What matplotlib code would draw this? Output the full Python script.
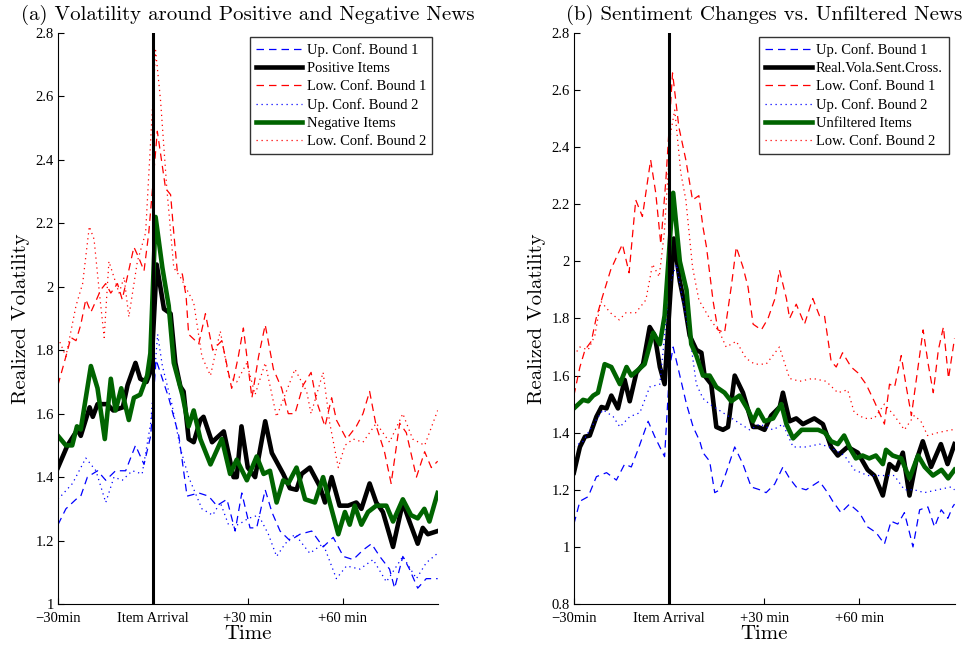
import matplotlib
matplotlib.use("Agg")
import matplotlib.pyplot as plt

# ---- panel (a): positive vs negative news ----
a_pos_t = [-30, -27, -23.8, -22.8, -20, -19, -17.5, -14.5, -12.5, -9.5, -8, -5.5, -4, -2, -0.5,
           1.2, 3.5, 5.6, 7.1, 8.7, 9.7, 11.3, 12.9, 15, 16, 18.7, 22.4, 25.5, 26.5, 28, 30, 32.3,
           35.5, 37.6, 41.2, 43.3, 45.4, 47, 49.6, 52.8, 54.4, 56.5, 59, 61.7, 64.3, 65.9, 68.5,
           70.6, 72.7, 75.9, 79, 81.1, 83.7, 85.3, 86.9, 90]
a_pos_v = [1.43, 1.50, 1.55, 1.53, 1.62, 1.59, 1.63, 1.63, 1.61, 1.62, 1.69, 1.76, 1.71, 1.70, 1.74,
           2.07, 1.93, 1.915, 1.76, 1.685, 1.67, 1.52, 1.51, 1.58, 1.59, 1.51, 1.544, 1.40, 1.40,
           1.56, 1.43, 1.40, 1.576, 1.476, 1.41, 1.365, 1.36, 1.41, 1.43, 1.37, 1.32, 1.40, 1.31,
           1.31, 1.32, 1.30, 1.38, 1.32, 1.29, 1.18, 1.32, 1.26, 1.19, 1.24, 1.22, 1.23]

a_neg_t = [-30, -27.5, -25.5, -24, -22.8, -19.6, -17.5, -15.2, -13.3, -11.8, -10, -7.6, -6, -4, -1.8,
           -0.8, 0.85, 3, 5, 6.6, 9.3, 11.3, 12.9, 15, 18.2, 21.8, 24.4, 26.5, 29.7, 32.8, 35, 37,
           39.1, 41.2, 42.8, 45.4, 48.1, 51.2, 53.8, 55.9, 58.6, 60.7, 62.2, 63.8, 65.9, 68, 70.6,
           73.8, 75.9, 79, 81.6, 83.7, 85.8, 87.4, 90]
a_neg_v = [1.53, 1.50, 1.50, 1.56, 1.55, 1.75, 1.68, 1.52, 1.71, 1.61, 1.68, 1.58, 1.65, 1.66, 1.72,
           1.79, 2.22, 2.06, 1.94, 1.76, 1.66, 1.56, 1.61, 1.52, 1.44, 1.52, 1.41, 1.455, 1.39,
           1.465, 1.41, 1.42, 1.32, 1.39, 1.38, 1.43, 1.33, 1.32, 1.40, 1.32, 1.22, 1.29, 1.25,
           1.31, 1.25, 1.29, 1.31, 1.31, 1.26, 1.33, 1.28, 1.27, 1.30, 1.26, 1.35]

a_low1_t = [-30, -27.5, -25.9, -24.3, -22.8, -21.2, -19.6, -17.8, -16.5, -14.9, -13.3, -11.2, -9.7,
            -8.1, -6, -4.4, -2.8, -1.3, 1.4, 4, 5.6, 6.6, 7.7, 9.3, 10.5, 11.3, 14.5, 16.6, 18.9,
            21.8, 24.9, 27, 28.6, 31.3, 33.4, 35.5, 38.1, 40.7, 42.8, 44.9, 47.5, 50, 51.7, 54.4,
            56.5, 58, 61.2, 64.3, 66.4, 68.5, 70.6, 73.2, 75.3, 78, 80.1, 83.3, 85.9, 88, 90]
a_low1_v = [1.69, 1.78, 1.84, 1.83, 1.88, 1.96, 1.92, 1.96, 1.99, 2.01, 1.98, 2.01, 1.96, 2.03,
            2.125, 2.09, 2.05, 2.17, 2.49, 2.31, 2.29, 2.17, 2.05, 2.04, 1.97, 1.85, 1.82, 1.915,
            1.80, 1.83, 1.68, 1.78, 1.87, 1.65, 1.78, 1.88, 1.74, 1.68, 1.60, 1.60, 1.69, 1.73,
            1.64, 1.56, 1.65, 1.58, 1.52, 1.56, 1.60, 1.67, 1.56, 1.48, 1.38, 1.57, 1.54, 1.40,
            1.48, 1.43, 1.45]

a_low2_t = [-30, -27.5, -24.3, -22.2, -20.1, -18.6, -17, -15.4, -13.9, -12.3, -10.7, -9.1, -7.6,
            -4.9, -2.3, 0.85, 2.4, 4.4, 6.6, 8.7, 12.9, 15.5, 18.2, 21.3, 23.9, 26.5, 29.7, 32.3,
            35.5, 39.1, 41.8, 44.9, 48.6, 50, 53.8, 55.9, 58.6, 60.7, 63.3, 66.4, 70.6, 74.8, 79,
            82.1, 85.9, 90]
a_low2_v = [1.84, 1.78, 1.94, 2.01, 2.19, 2.15, 1.99, 1.84, 2.08, 2.03, 1.98, 2.03, 1.905, 2.08,
            2.17, 2.745, 2.59, 2.31, 2.06, 2.03, 1.95, 1.78, 1.72, 1.86, 1.72, 1.70, 1.76, 1.66,
            1.76, 1.59, 1.66, 1.74, 1.67, 1.60, 1.73, 1.57, 1.43, 1.50, 1.52, 1.51, 1.57, 1.51,
            1.60, 1.52, 1.50, 1.61]

a_up1_t = [-30, -27.5, -24.3, -22.8, -20.7, -17.5, -14.9, -11.8, -8.6, -5.5, -2.8, -0.7, 1, 5, 8.2,
           10.8, 14.5, 17.6, 20.2, 23.4, 26, 28.1, 30.7, 32.8, 35.5, 37.6, 40.2, 43.3, 46.5, 50.2,
           53.8, 57, 60.2, 63.3, 66.4, 69.1, 71.7, 74.8, 76.4, 79, 81.1, 83.7, 86.4, 90]
a_up1_v = [1.25, 1.30, 1.33, 1.34, 1.40, 1.42, 1.39, 1.42, 1.42, 1.50, 1.44, 1.53, 1.77, 1.65, 1.53,
           1.34, 1.35, 1.34, 1.31, 1.33, 1.23, 1.35, 1.24, 1.24, 1.36, 1.29, 1.23, 1.20, 1.22, 1.23,
           1.18, 1.21, 1.15, 1.14, 1.17, 1.19, 1.15, 1.11, 1.05, 1.15, 1.11, 1.05, 1.08, 1.08]

a_up2_t = [-30, -25.4, -21.2, -18, -14.9, -12.3, -9.7, -6.5, -3.4, -0.7, 1.5, 3, 6, 8.7, 11.3, 15.5,
           18.9, 21.3, 23.9, 27, 30.2, 33.4, 36.5, 39.1, 41.8, 44.9, 48, 49.6, 53.8, 58, 61.2, 65.4,
           69.6, 73.8, 79, 83.3, 86.4, 90]
a_up2_v = [1.33, 1.38, 1.46, 1.42, 1.32, 1.40, 1.39, 1.42, 1.41, 1.57, 1.85, 1.75, 1.63, 1.49, 1.40,
           1.30, 1.28, 1.32, 1.25, 1.25, 1.27, 1.28, 1.22, 1.15, 1.19, 1.22, 1.18, 1.16, 1.19, 1.08,
           1.12, 1.11, 1.14, 1.07, 1.15, 1.08, 1.13, 1.16]

# ---- panel (b): sentiment changes vs unfiltered news ----
b_sent_t = [-30, -28.1, -26.5, -25, -22.9, -21.3, -19.7, -18.2, -16.1, -14, -12.4, -10.3, -8.2, -6.1,
            -4.5, -2.9, -1.4, 1.5, 3.4, 4.9, 6.5, 8.6, 10.2, 11.2, 13.3, 14.9, 17, 18.6, 20.7, 23.3,
            26.5, 28.1, 30.1, 32.2, 34.9, 35.9, 38, 40.1, 42.2, 45.8, 48.5, 51.1, 53.2, 56.3, 59.5,
            62.6, 64.7, 67.4, 69.5, 71.6, 73.7, 75.8, 77.9, 80, 82.6, 85.7, 87.8, 90]
b_sent_v = [1.26, 1.35, 1.386, 1.39, 1.456, 1.49, 1.485, 1.53, 1.485, 1.585, 1.51, 1.61, 1.64, 1.77,
            1.74, 1.63, 1.57, 2.08, 1.93, 1.85, 1.74, 1.69, 1.68, 1.60, 1.57, 1.42, 1.41, 1.42, 1.60,
            1.54, 1.42, 1.42, 1.41, 1.46, 1.49, 1.54, 1.44, 1.45, 1.43, 1.45, 1.43, 1.35, 1.32, 1.35,
            1.33, 1.27, 1.25, 1.18, 1.29, 1.27, 1.33, 1.18, 1.30, 1.37, 1.28, 1.36, 1.29, 1.36]

b_unf_t = [-30, -27.1, -25.5, -23.9, -22.4, -20.3, -18.2, -15.5, -13.4, -11.9, -9.2, -7.7, -5, -2.9,
           -1.4, 1.3, 3.4, 5.5, 7, 8.6, 10.7, 12.8, 14.9, 17.5, 19.6, 22.2, 24.9, 26.5, 28.1, 30.1,
           32.8, 35.4, 37, 39.1, 41.8, 44.4, 47, 49.1, 51.1, 53.2, 55.2, 57.3, 58.9, 61, 63.1, 65.2,
           67.4, 68.4, 70.5, 73.2, 75.8, 78.5, 80.6, 83.2, 85.9, 88, 90]
b_unf_v = [1.485, 1.515, 1.51, 1.53, 1.54, 1.64, 1.63, 1.57, 1.63, 1.60, 1.625, 1.64, 1.75, 1.71, 1.81,
           2.24, 2.0, 1.90, 1.71, 1.67, 1.60, 1.60, 1.56, 1.54, 1.51, 1.53, 1.48, 1.44, 1.48, 1.44,
           1.45, 1.50, 1.43, 1.38, 1.41, 1.41, 1.41, 1.40, 1.37, 1.36, 1.39, 1.34, 1.31, 1.32, 1.31,
           1.32, 1.29, 1.34, 1.32, 1.31, 1.24, 1.32, 1.28, 1.25, 1.27, 1.24, 1.27]

b_low1_t = [-30, -28.1, -26.5, -24.5, -23, -21, -18.4, -14.7, -12.6, -10.5, -8.4, -5.8, -4.2, -2.6,
            -1, 1.1, 3.1, 5.3, 7.4, 9.4, 10.7, 11.8, 13.9, 15.4, 17.5, 19.6, 21.2, 23.3, 24.9, 26.5,
            29.1, 31.2, 33.4, 34.8, 37, 38, 40.1, 42.7, 45.3, 47.4, 49, 51.1, 52.7, 54.7, 57.4, 59.5,
            62.1, 64.7, 67.9, 69.5, 71.1, 73.2, 74.8, 76.4, 78.5, 80.1, 81.7, 83.3, 84.9, 86.5,
            88.1, 90]
b_low1_v = [1.53, 1.63, 1.69, 1.72, 1.80, 1.876, 1.97, 2.06, 1.96, 2.215, 2.157, 2.355, 2.24, 2.06,
            2.285, 2.66, 2.47, 2.355, 2.215, 2.23, 2.12, 2.05, 1.86, 1.76, 1.75, 1.91, 2.05, 1.98,
            1.91, 1.78, 1.76, 1.80, 1.87, 1.97, 1.87, 1.80, 1.85, 1.78, 1.87, 1.81, 1.81, 1.65,
            1.63, 1.68, 1.63, 1.61, 1.57, 1.51, 1.43, 1.57, 1.56, 1.67, 1.56, 1.46, 1.63, 1.76,
            1.64, 1.54, 1.69, 1.77, 1.59, 1.73]

b_low2_t = [-30, -28.1, -25.5, -23.4, -21.5, -18.5, -15.7, -13.6, -10.5, -7.3, -5.2, -3.1, -1.5, 0.5,
            1.8, 3.7, 5.3, 7.4, 9.4, 12.8, 16, 18, 21.2, 24.3, 27, 30.6, 34.8, 38, 41.2, 45.3, 49.5,
            53.2, 56.3, 58.4, 61.6, 64.7, 67.9, 71, 74.2, 77.3, 79.4, 81.5, 84.7, 88.9, 90]
b_low2_v = [1.67, 1.70, 1.69, 1.74, 1.86, 1.82, 1.795, 1.82, 1.82, 1.865, 1.99, 1.946, 2.10, 2.45,
            2.53, 2.31, 2.215, 1.98, 1.865, 1.80, 1.75, 1.70, 1.72, 1.66, 1.64, 1.64, 1.70, 1.59,
            1.58, 1.59, 1.58, 1.54, 1.55, 1.47, 1.45, 1.45, 1.50, 1.46, 1.41, 1.46, 1.44, 1.39,
            1.40, 1.41, 1.41]

b_up1_t = [-30, -28.1, -25.5, -22.9, -19.7, -16.6, -14, -11.9, -9.8, -6.6, -4.5, -1.4, 0.2, 1.3, 3.4,
           5.5, 7.6, 9.7, 10.7, 12.8, 14.4, 16, 18, 20.7, 23.3, 25.9, 28.6, 30.6, 33.3, 35.9, 38,
           40.1, 43.2, 47.4, 50, 51.6, 54.2, 56.9, 60, 62.6, 65.3, 67.9, 70, 72.1, 74.2, 75.8, 76.9,
           79, 81.6, 83.7, 85.8, 87.9, 89.4, 90]
b_up1_v = [1.08, 1.16, 1.176, 1.246, 1.26, 1.234, 1.29, 1.28, 1.34, 1.44, 1.386, 1.316, 1.63, 1.70,
           1.60, 1.50, 1.42, 1.37, 1.33, 1.30, 1.19, 1.20, 1.26, 1.35, 1.29, 1.21, 1.20, 1.19, 1.22,
           1.28, 1.24, 1.21, 1.20, 1.23, 1.19, 1.16, 1.12, 1.15, 1.12, 1.07, 1.05, 1.01, 1.09, 1.08,
           1.12, 1.05, 1.00, 1.13, 1.14, 1.07, 1.13, 1.10, 1.14, 1.15]

b_up2_t = [-30, -27.1, -23.9, -20.8, -17.6, -15.5, -12.4, -9.2, -6.1, -2.9, 0.2, 2.3, 4.4, 6.5, 8.6,
           10.7, 12.8, 17, 21.2, 25.4, 28.6, 32.8, 35.9, 39.1, 43.2, 47.4, 50.6, 55.3, 58.4, 62.6,
           66.8, 71, 74.2, 77.3, 80.5, 84.7, 88.9, 90]
b_up2_v = [1.35, 1.37, 1.43, 1.48, 1.456, 1.42, 1.456, 1.47, 1.56, 1.57, 1.92, 1.99, 1.86, 1.74, 1.57,
           1.52, 1.50, 1.47, 1.44, 1.41, 1.43, 1.41, 1.43, 1.35, 1.35, 1.36, 1.35, 1.32, 1.27, 1.25,
           1.25, 1.25, 1.20, 1.20, 1.19, 1.20, 1.21, 1.20]

xtick_pos = [-30, 0, 30, 60]
xtick_lab = ["\u221230min", "Item Arrival", "+30 min", "+60 min"]

serif_tick = "Liberation Serif"
cm = "cmr10"
green = "#006400"


def panel(ax, title, main_name, sec_name, main, sec, up1, low1, up2, low2, ylim, yticks):
    ax.plot(up1[0], up1[1], color="blue", ls=(0, (6, 4)), lw=0.9, label="Up. Conf. Bound 1")
    ax.plot(main[0], main[1], color="black", lw=3.3, label=main_name)
    ax.plot(low1[0], low1[1], color="red", ls=(0, (6, 4)), lw=0.9, label="Low. Conf. Bound 1")
    ax.plot(up2[0], up2[1], color="blue", ls=(0, (1, 3)), lw=0.9, label="Up. Conf. Bound 2")
    ax.plot(sec[0], sec[1], color=green, lw=3.3, label=sec_name)
    ax.plot(low2[0], low2[1], color="red", ls=(0, (1, 3)), lw=0.9, label="Low. Conf. Bound 2")
    ax.axvline(0, color="black", lw=2.2)
    ax.set_xlim(-30, 90)
    ax.set_ylim(*ylim)
    ax.set_yticks(yticks)
    ax.set_yticklabels([("%g" % y) for y in yticks], family=serif_tick, fontsize=10.5)
    ax.set_xticks(xtick_pos)
    ax.set_xticklabels(xtick_lab, family=serif_tick, fontsize=10.5)
    ax.tick_params(direction="in", length=4, width=0.8)
    ax.tick_params(axis="x", pad=6)
    ax.tick_params(axis="y", pad=3)
    for s in ["top", "right"]:
        ax.spines[s].set_visible(False)
    ax.set_title(title, family=cm, fontsize=15, pad=9)
    ax.set_xlabel("Time", family=cm, fontsize=15, labelpad=0)
    ax.set_ylabel("Realized Volatility", family=cm, fontsize=15, labelpad=4)
    leg = ax.legend(loc="upper right", bbox_to_anchor=(0.985, 0.992), prop={"family": serif_tick, "size": 10.5},
                    frameon=True, fancybox=False, edgecolor="black", handlelength=3.2,
                    handletextpad=0.3, labelspacing=0.33, borderpad=0.4, borderaxespad=0)
    leg.get_frame().set_linewidth(1.0)


fig = plt.figure(figsize=(9.76, 6.49), dpi=100)
ax1 = fig.add_axes([0.0594, 0.0693, 0.389, 0.880])
ax2 = fig.add_axes([0.588, 0.0693, 0.390, 0.880])

panel(ax1, "(a) Volatility around Positive and Negative News", "Positive Items", "Negative Items",
      (a_pos_t, a_pos_v), (a_neg_t, a_neg_v), (a_up1_t, a_up1_v), (a_low1_t, a_low1_v),
      (a_up2_t, a_up2_v), (a_low2_t, a_low2_v), (1.0, 2.8), [1, 1.2, 1.4, 1.6, 1.8, 2, 2.2, 2.4, 2.6, 2.8])
panel(ax2, "(b) Sentiment Changes vs. Unfiltered News", "Real.Vola.Sent.Cross.", "Unfiltered Items",
      (b_sent_t, b_sent_v), (b_unf_t, b_unf_v), (b_up1_t, b_up1_v), (b_low1_t, b_low1_v),
      (b_up2_t, b_up2_v), (b_low2_t, b_low2_v), (0.8, 2.8),
      [0.8, 1, 1.2, 1.4, 1.6, 1.8, 2, 2.2, 2.4, 2.6, 2.8])

fig.savefig("out.png", dpi=100)
